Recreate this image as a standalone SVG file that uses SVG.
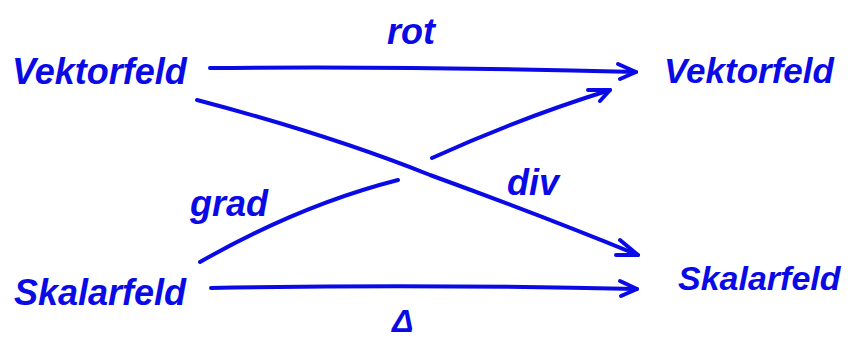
<svg xmlns="http://www.w3.org/2000/svg" width="850" height="344" viewBox="0 0 850 344">
<defs>
<style>
.t{font-family:"Liberation Sans","DejaVu Sans",sans-serif;font-style:italic;font-weight:bold;fill:#0a0ae6;}
.c{fill:none;stroke:#0a0ae6;stroke-width:4;stroke-linecap:round;stroke-linejoin:round;}
</style>
</defs>
<rect width="850" height="344" fill="#ffffff"/>
<g id="node-vektorfeld-left"><text class="t" font-size="36" x="12" y="84">Vektorfeld</text></g>
<g id="node-vektorfeld-right"><text class="t" font-size="35" x="664" y="83">Vektorfeld</text></g>
<g id="node-skalarfeld-left"><text class="t" font-size="36" x="14" y="305">Skalarfeld</text></g>
<g id="node-skalarfeld-right"><text class="t" font-size="34" x="678" y="290">Skalarfeld</text></g>
<g id="connectors">
<path class="c" d="M210,68 Q420,66 636,72"/>
<path class="c" d="M618,64 L636,72 L620,79"/>
<path class="c" d="M197,100 Q330,135 430,175 Q540,215 638,255"/>
<path class="c" d="M620,240 L638,255 L616,255"/>
<path class="c" d="M200,262 Q300,205 398,180"/>
<path class="c" d="M432,158 Q520,118 610,90"/>
<path class="c" d="M588,90 L610,90 L600,101"/>
<path class="c" d="M211,288 Q420,284 637,289"/>
<path class="c" d="M620,281 L637,289 L621,296"/>
<text class="t" font-size="36" x="387" y="44">rot</text>
<text class="t" font-size="36" x="190" y="216">grad</text>
<text class="t" font-size="36" x="507" y="195">div</text>
<text class="t" font-size="32" x="392" y="332">Δ</text>
</g>
</svg>
